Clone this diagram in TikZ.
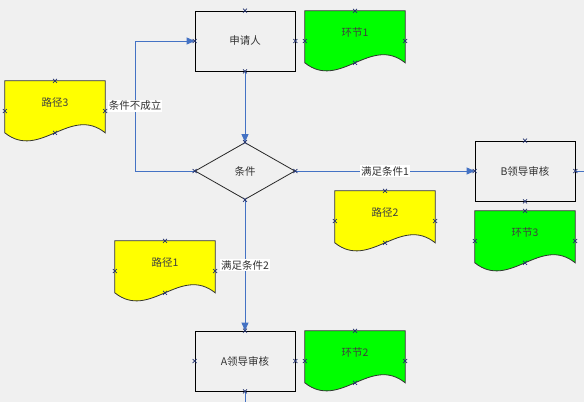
\documentclass[tikz,border=0pt]{standalone}
\usepackage{fontspec}
\setmainfont{Noto Sans CJK SC}
\usetikzlibrary{shapes.geometric,arrows.meta,calc}

\definecolor{bg}{RGB}{240,240,240}
\definecolor{lnblue}{RGB}{68,114,196}
\definecolor{mkblue}{RGB}{35,50,110}
\definecolor{docyellow}{RGB}{255,255,0}
\definecolor{docgreen}{RGB}{0,255,0}

\tikzset{
  stepbox/.style={rectangle, draw=black, fill=bg, line width=0.8pt, minimum width=100pt, minimum height=60pt, inner sep=0pt, text=black!80, font=\fontsize{10.5}{12}\selectfont},
  decide/.style={diamond, draw=black!85, fill=bg, line width=0.8pt, minimum width=100pt, minimum height=57pt, inner sep=0pt, text=black!80, font=\fontsize{10.5}{12}\selectfont},
  docframe/.style={rectangle, minimum width=100pt, minimum height=60pt, inner sep=0pt},
  docline/.style={draw=black!80, line width=0.8pt},
  doctext/.style={inner sep=0pt, text=black!75, font=\fontsize{10.5}{12}\selectfont},
  flow/.style={draw=lnblue, line width=0.9pt},
  arrowflow/.style={flow, -{Triangle[length=8pt,width=7pt]}},
  lbl/.style={fill=white, inner sep=1pt, text=black!80, font=\fontsize{10.5}{12}\selectfont},
  xtick/.style={draw=mkblue, line width=0.7pt}
}

% document shape: name, centre, fill, text
\newcommand{\docnode}[4]{%
  \node[docframe] (#1) at (#2) {};
  \draw[docline, fill=#3] (#1.north west) -- (#1.north east) -- ($(#1.north east)+(0,52)$)
    .. controls ($(#1.north east)+(-35,24)$) and ($(#1.north west)+(35,80)$) .. ($(#1.north west)+(0,52)$) -- cycle;
  \coordinate (#1-b) at ($(#1.north)+(0,52)$);
  \node[doctext] (#1-t) at ($(#1.north)+(0,22)$) {#4};
}

\begin{document}
\begin{tikzpicture}[x=1pt,y=-1pt]
  \fill[bg] (0,0) rectangle (584,402);
  \useasboundingbox (0,0) rectangle (584,402);

  % Nodes
  \node[stepbox] (req) at (245,41) {申请人};
  \node[decide] (cond) at (245,171) {条件};
  \node[stepbox] (bld) at (525,171) {B领导审核};
  \node[stepbox] (ald) at (245,361) {A领导审核};

  % Documents
  \docnode{hj1}{355,41}{docgreen}{环节1}
  \docnode{hj2}{355,361}{docgreen}{环节2}
  \docnode{hj3}{525,241}{docgreen}{环节3}
  \docnode{lj1}{165,271}{docyellow}{路径1}
  \docnode{lj2}{385,221}{docyellow}{路径2}
  \docnode{lj3}{55,111}{docyellow}{路径3}

  \coordinate (bend) at (135,171);
  \coordinate (outA) at (245,402);
  \coordinate (outB) at (584,171);

  % Edges
  \draw[arrowflow] (req.south) -- (cond.north);
  \draw[arrowflow] (cond.east) -- node[lbl] {满足条件1} (bld.west);
  \draw[arrowflow] (cond.south) -- node[lbl] {满足条件2} (ald.north);
  \draw[arrowflow] (cond.west) -- (bend) |- node[lbl, pos=0.25] {条件不成立} (req.west);
  \draw[flow] (ald.south) -- (outA);
  \draw[flow] (bld.east) -- (outB);

  % connection marks
  \foreach \p in {req.north,req.south,req.east,req.west,
                  bld.north,bld.south,bld.east,bld.west,
                  ald.north,ald.south,ald.east,ald.west,
                  cond.north,cond.south,cond.east,cond.west,
                  hj1.north,hj1.east,hj1.west,hj1-b,
                  hj2.north,hj2.east,hj2.west,hj2-b,
                  hj3.north,hj3.east,hj3.west,hj3-b,
                  lj1.north,lj1.east,lj1.west,lj1-b,
                  lj2.north,lj2.east,lj2.west,lj2-b,
                  lj3.north,lj3.east,lj3.west,lj3-b}
    \draw[xtick] (\p) ++(-2,-2) -- ++(4,4) ++(-4,0) -- ++(4,-4);
\end{tikzpicture}
\end{document}
